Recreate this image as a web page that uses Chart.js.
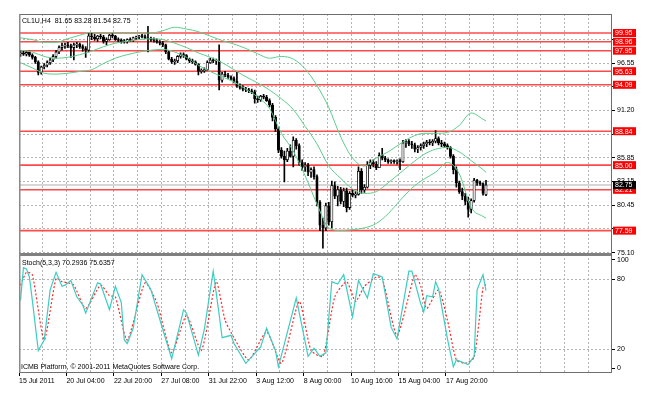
<!DOCTYPE html>
<html><head><meta charset="utf-8">
<script src="https://cdn.jsdelivr.net/npm/chart.js@4.4.0/dist/chart.umd.min.js"></script>
<style>html,body{margin:0;padding:0;background:#fff;}#wrap{width:647px;height:397px;position:relative;}</style>
</head><body><div id="wrap"><canvas id="c" width="647" height="397"></canvas></div>
<script>
// ---- data ----
const xLabels = ['15 Jul 2011','20 Jul 04:00','22 Jul 20:00','27 Jul 08:00','31 Jul 22:00','3 Aug 12:00','8 Aug 00:00','10 Aug 16:00','15 Aug 04:00','17 Aug 20:00'];
const open = [
97.60,97.70,97.55,97.75,97.45,97.20,96.70,95.50,96.10,96.30,
96.60,96.90,97.30,97.80,98.30,98.50,98.60,98.50,98.30,98.60,
98.70,98.40,98.20,98.00,99.60,99.50,99.30,99.60,99.50,99.00,
99.20,99.70,99.60,99.20,99.10,99.00,98.95,99.20,99.10,99.40,
99.50,99.60,99.55,99.40,99.30,99.20,99.10,98.90,98.80,98.60,
97.80,97.00,96.70,96.80,97.30,97.50,97.40,97.00,96.80,96.70,
96.40,95.60,95.70,95.80,96.60,96.90,96.80,96.80,94.60,95.30,
95.20,95.00,94.80,94.50,94.00,93.80,93.60,93.50,93.40,93.30,
92.50,92.40,92.80,92.70,92.30,91.80,90.40,89.10,86.70,86.00,
85.60,86.60,86.00,87.80,87.20,85.30,84.80,85.00,84.20,84.50,
83.70,80.80,78.20,77.90,80.40,78.60,82.70,81.50,82.20,80.90,
82.10,80.20,81.80,81.60,81.70,84.30,82.20,82.50,85.00,85.30,
85.10,84.70,86.10,85.80,85.60,85.40,85.50,85.40,85.50,85.40,
87.50,87.70,87.40,87.30,86.80,87.00,87.20,87.40,87.60,87.50,
87.70,88.00,87.50,87.40,87.20,87.00,86.00,84.50,83.00,82.00,
81.50,80.90,80.00,81.00,83.30,83.00,82.90,81.65];
const high = [
97.95,97.90,97.85,97.90,97.60,97.30,96.80,96.20,96.50,96.80,
97.10,97.50,98.00,98.50,98.80,98.80,98.90,98.70,98.80,98.90,
98.80,98.60,98.40,99.90,99.90,99.80,99.70,99.80,99.70,99.40,
99.80,99.90,99.70,99.40,99.30,99.20,99.30,99.40,99.50,99.60,
99.70,99.80,99.75,100.70,99.50,99.40,99.30,99.10,99.00,98.70,
97.90,97.20,97.00,97.40,97.70,97.70,97.50,97.10,97.00,96.80,
96.50,95.90,96.00,96.80,97.10,97.10,97.00,98.60,95.50,95.60,
95.40,95.10,95.00,95.50,94.20,94.00,93.80,93.70,93.60,93.50,
92.80,92.90,93.00,92.90,92.50,92.00,90.60,89.30,87.00,86.60,
86.90,87.30,88.20,88.00,87.40,85.60,85.30,85.20,84.70,84.80,
83.90,81.00,79.00,80.70,80.80,83.20,83.10,82.60,82.50,82.40,
82.40,82.00,82.20,82.00,84.80,84.60,82.80,85.40,85.60,85.60,
85.40,86.40,86.90,86.00,85.70,85.60,85.60,85.60,85.70,87.80,
87.90,87.90,87.70,87.50,87.20,87.40,87.60,87.80,87.90,87.90,
88.90,88.20,87.80,87.60,87.40,87.10,86.20,84.80,83.20,82.40,
81.80,81.40,81.20,83.50,83.40,83.20,83.00,83.28];
const low = [
97.30,97.40,97.35,97.30,97.00,96.50,95.20,95.30,95.90,96.10,
96.40,96.70,97.10,97.60,98.00,98.20,98.30,97.20,96.90,98.30,
98.20,97.90,97.20,97.80,99.20,99.10,99.00,99.30,98.80,98.60,
99.10,99.40,99.10,98.90,98.80,98.80,98.80,99.00,99.00,99.20,
99.30,99.40,99.30,97.80,99.00,98.90,98.80,98.60,98.40,97.60,
96.90,96.50,96.40,96.60,97.10,97.20,96.90,96.60,96.50,96.30,
95.20,95.40,95.50,95.70,96.50,96.60,96.40,93.50,94.40,95.00,
94.80,94.60,94.30,93.80,93.60,93.40,93.30,93.20,93.10,92.00,
92.10,92.20,92.50,92.20,91.60,90.00,88.80,86.40,85.80,83.10,
85.40,85.90,84.80,86.80,85.00,84.40,84.30,83.80,83.60,83.40,
80.40,77.60,75.60,77.60,78.20,77.90,81.20,80.40,80.60,80.30,
79.70,80.00,81.40,81.30,81.60,81.80,81.90,82.40,84.60,84.80,
84.50,84.70,85.60,85.40,85.20,85.20,85.20,85.10,84.50,85.30,
87.00,87.20,86.90,86.50,86.40,86.70,86.90,87.10,87.30,87.20,
87.50,87.30,87.10,87.00,86.80,85.80,84.00,82.50,81.80,81.10,
80.50,79.10,79.60,80.80,82.70,82.70,81.60,81.54];
const close = [
97.70,97.55,97.75,97.45,97.20,96.70,95.50,96.10,96.30,96.60,
96.90,97.30,97.80,98.30,98.50,98.60,98.50,98.30,98.60,98.70,
98.40,98.20,98.00,99.60,99.50,99.30,99.60,99.50,99.00,99.20,
99.70,99.60,99.20,99.10,99.00,98.95,99.20,99.10,99.40,99.50,
99.60,99.55,99.40,99.30,99.20,99.10,98.90,98.80,98.60,97.80,
97.00,96.70,96.80,97.30,97.50,97.40,97.00,96.80,96.70,96.40,
95.60,95.70,95.80,96.60,96.90,96.80,96.80,94.60,95.30,95.20,
95.00,94.80,94.50,94.00,93.80,93.60,93.50,93.40,93.30,92.50,
92.40,92.80,92.70,92.30,91.80,90.40,89.10,86.70,86.00,85.60,
86.60,86.00,87.80,87.20,85.30,84.80,85.00,84.20,84.50,83.70,
80.80,78.20,77.90,80.40,78.60,82.70,81.50,82.20,80.90,82.10,
80.20,81.80,81.60,81.70,84.30,82.20,82.50,85.00,85.30,85.10,
84.70,86.10,85.80,85.60,85.40,85.50,85.40,85.50,85.40,87.50,
87.70,87.40,87.30,86.80,87.00,87.20,87.40,87.60,87.50,87.70,
88.00,87.50,87.40,87.20,87.00,86.00,84.50,83.00,82.00,81.50,
80.90,80.00,81.00,83.30,83.00,82.90,81.80,82.75];

const bbIdx = [0,4,8,12,16,20,24,28,32,36,40,44,48,52,56,60,64,68,72,76,80,84,88,92,96,100,104,108,112,116,120,124,128,132,136,140,144,148,152,156,157];
const bbUpper = [99.4,99.2,98.9,98.9,99.3,99.7,100.0,100.0,99.95,99.95,99.95,99.95,100.2,100.6,100.4,100.1,99.6,99.1,98.7,98.2,97.6,97.1,97.3,97.0,95.9,94.0,91.5,88.2,85.8,84.9,85.8,86.5,87.4,88.2,88.6,88.6,88.7,89.5,90.9,90.2,90.0];
const bbMiddle = [98.0,97.8,97.3,97.1,97.2,97.5,97.9,98.4,98.8,99.0,99.2,99.3,99.2,98.8,98.3,97.7,97.2,96.6,95.8,95.0,94.3,93.5,92.5,91.3,89.4,87.4,84.9,83.5,82.3,81.8,82.0,83.0,84.1,85.2,86.2,86.8,87.0,86.5,85.5,84.5,84.2];
const bbLower = [96.6,96.0,95.4,95.3,95.4,95.6,95.8,96.5,97.1,97.5,97.8,98.0,98.1,97.8,97.2,96.3,95.6,95.0,94.4,93.6,92.7,91.4,88.6,86.6,83.8,80.6,77.9,77.6,77.7,77.9,78.4,79.5,81.0,82.4,83.4,84.2,85.3,84.0,80.2,79.2,79.0];

const kIdx = [0,1,2,3,4,6,8,10,12,14,15,17,19,21,22,26,27,30,32,34,35,36,38,41,44,48,51,55,56,60,62,65,67,68,71,72,76,81,83,86,87,93,97,99,101,103,105,107,109,112,114,117,119,122,125,127,131,132,135,136,137,139,140,141,144,146,147,151,153,154,156,157];
const kVal = [62,90,89,82,62,19,28,71,86,74,75,79,65,58,51,77,76,54,74,60,28,25,38,84,71,37,12,54,51,15,37,87,50,30,32,25,8,22,38,19,5,64,14,21,14,17,78,76,84,48,79,64,85,82,39,29,87,87,59,52,66,65,78,72,29,5,11,7,14,71,84,70.29];
const dIdx = [0,2,4,8,12,14,16,18,22,27,30,32,36,42,46,51,56,61,66,69,72,77,83,88,94,98,102,106,110,113,116,120,122,127,133,135,137,141,144,147,150,153,156,157];
const dVal = [75,86,84,28,81,78,77,75,55,75,66,65,28,77,60,17,49,19,78,45,30,11,35,8,61,19,14,65,78,61,74,82,81,32,84,74,55,71,45,11,8,13,73,75.64];

const levels = [99.95,98.96,97.95,95.63,94.09,88.84,85.00,82.21,77.59];
const lastPrice = 82.75;
const priceTicks = [75.10,77.78,80.45,83.15,85.85,88.52,91.20,93.88,96.55,99.23];
const priceTickLabels = ['75.10','','80.45','83.15','85.85','','91.20','','96.55',''];
const stochTicks = [3.8,20,80,96.6];
const stochTickLabels = ['0','20','80','100'];
const xGridVals = [-0.5,7.5,15.5,23.5,31.5,39.5,47.5,55.5,63.5,71.5,79.5,87.5,95.5,103.5,111.5,119.5,127.5,135.5,143.5,151.5,159.5,167.5,175.5,183.5,191.5,199.5];
const titleText = 'CL1U,H4  81.65 83.28 81.54 82.75';
const stochText = 'Stoch(5,3,3) 70.2936 75.6357';
const footText = 'ICMB Platform, \u00A9 2001-2011 MetaQuotes Software Corp.';

// ---- build ----
const FONT = "'Liberation Sans', Arial, sans-serif";
Chart.defaults.font.family = FONT;
Chart.defaults.font.size = 7;
Chart.defaults.color = '#000';
const gridCol = '#b4b4b4';
const wickData = low.map((l,i)=>({x:i, y:[l, high[i]]}));
const bodyData = open.map((o,i)=>({x:i, y:[o, close[i]]}));
const bodyFill = open.map((o,i)=> close[i] >= o ? '#ffffff' : '#000000');
const pts = (idx, vals) => idx.map((x,j)=>({x:x, y:vals[j]}));
const levelData = v => [{x:-0.5,y:v},{x:199.5,y:v}];

const datasets = [];
levels.forEach(v => datasets.push({type:'line', data:levelData(v), borderColor:'#ff4a4a', borderWidth:1.6, pointRadius:0, order:10, yAxisID:'y'}));
datasets.push({type:'line', data:levelData(lastPrice), borderColor:'#c8c8c8', borderWidth:1.5, pointRadius:0, order:9, yAxisID:'y'});
datasets.push({type:'bar', data:wickData, backgroundColor:'#000', barThickness:1, grouped:false, order:5, yAxisID:'y'});
datasets.push({type:'bar', data:bodyData, backgroundColor:bodyFill, borderColor:'#000', borderWidth:0.8, borderSkipped:false, barThickness:2.4, minBarLength:1, grouped:false, order:4, yAxisID:'y'});
[bbUpper,bbMiddle,bbLower].forEach(arr => datasets.push({type:'line', data:pts(bbIdx,arr), borderColor:'#5ccd8c', borderWidth:1, pointRadius:0, cubicInterpolationMode:'monotone', order:2, yAxisID:'y'}));
datasets.push({type:'line', data:pts(kIdx,kVal), borderColor:'#3ccdc2', borderWidth:1.2, pointRadius:0, tension:0, order:1, yAxisID:'y2'});
datasets.push({type:'line', data:pts(dIdx,dVal), borderColor:'#ff2a2a', borderWidth:1.2, borderDash:[2,2], pointRadius:0, tension:0.2, order:1, yAxisID:'y2'});

const overlay = {
  id:'overlay',
  afterDraw(chart){
    const {ctx, chartArea:a, scales} = chart;
    const y = scales.y, y2 = scales.y2;
    ctx.save();
    // separator
    ctx.fillStyle = '#808080';
    ctx.fillRect(a.left, y.bottom-1.5, a.right-a.left, 3);
    // frame
    ctx.strokeStyle = '#6e6e6e'; ctx.lineWidth = 1;
    ctx.strokeRect(a.left+0.5, a.top+0.5, a.right-a.left-1, a.bottom-a.top-1);
    ctx.fillStyle = '#8a8a8a';
    ctx.fillRect(a.left, a.top, 1.5, a.bottom-a.top);
    // price boxes
    ctx.font = '7px ' + FONT;
    ctx.textBaseline = 'middle'; ctx.textAlign = 'left';
    levels.forEach(v => {
      const py = y.getPixelForValue(v);
      ctx.fillStyle = '#ff0000'; ctx.fillRect(a.right+1, py-4, 23, 8);
      ctx.fillStyle = '#ffffff'; ctx.fillText(v.toFixed(2), a.right+3, py+0.5);
    });
    const lp = y.getPixelForValue(lastPrice);
    ctx.fillStyle = '#000000'; ctx.fillRect(a.right+1, lp-4, 23, 8);
    ctx.fillStyle = '#ffffff'; ctx.fillText(lastPrice.toFixed(2), a.right+3, lp+0.5);
    // texts
    ctx.fillStyle = '#000';
    ctx.fillText(titleText, a.left+3, a.top+7);
    ctx.fillText(stochText, a.left+3, y2.top+9);
    ctx.fillText(footText, a.left+2, a.bottom-6);
    ctx.restore();
  }
};

new Chart(document.getElementById('c'), {
  type:'bar',
  data:{datasets},
  plugins:[overlay],
  options:{
    responsive:false, animation:false, events:[],
    layout:{padding:{left:19, top:14, right:0, bottom:0}},
    plugins:{legend:{display:false}, tooltip:{enabled:false}},
    scales:{
      x:{type:'linear', position:'bottom', min:-0.5, max:199.5, offset:false,
        afterBuildTicks: s => { s.ticks = xGridVals.map(v=>({value:v})); },
        afterFit: s => { s.height = 24; },
        grid:{offset:false, color: c => (c.index>0 && c.index<25) ? gridCol : 'rgba(0,0,0,0)', lineWidth:1,
              drawTicks:true, tickLength:3, tickWidth:1, tickBorderDash:[],
              tickColor: c => (c.index%2===0 && c.index/2 < xLabels.length) ? '#000' : 'rgba(0,0,0,0)'},
        border:{display:false, dash:[2,2]},
        ticks:{autoSkip:false, maxRotation:0, minRotation:0, align:'start', padding:1, color:'#000',
               callback:(v,i)=> (i%2===0 && i/2 < xLabels.length) ? xLabels[i/2] : ''}
      },
      y:{type:'linear', position:'right', stack:'panes', stackWeight:240.5, min:74.89, max:102.10,
        afterBuildTicks: s => { s.ticks = priceTicks.map(v=>({value:v})); },
        afterFit: s => { s.width = 35; },
        grid:{color:gridCol, lineWidth:1, drawTicks:true, tickLength:3, tickWidth:1, tickColor:'#000', tickBorderDash:[]},
        border:{display:false, dash:[2,2]},
        ticks:{autoSkip:false, padding:2, color:'#000', callback:(v,i)=>priceTickLabels[i]}
      },
      y2:{type:'linear', position:'right', stack:'panes', stackWeight:118.5, min:-0.3, max:101.3,
        afterBuildTicks: s => { s.ticks = stochTicks.map(v=>({value:v})); },
        afterFit: s => { s.width = 35; },
        grid:{color: c => (c.index===1||c.index===2) ? gridCol : 'rgba(0,0,0,0)', lineWidth:1, drawTicks:true, tickLength:3, tickWidth:1, tickColor:'#000', tickBorderDash:[]},
        border:{display:false, dash:[2,2]},
        ticks:{autoSkip:false, padding:2, color:'#000', callback:(v,i)=>stochTickLabels[i]}
      }
    }
  }
});
</script></body></html>
